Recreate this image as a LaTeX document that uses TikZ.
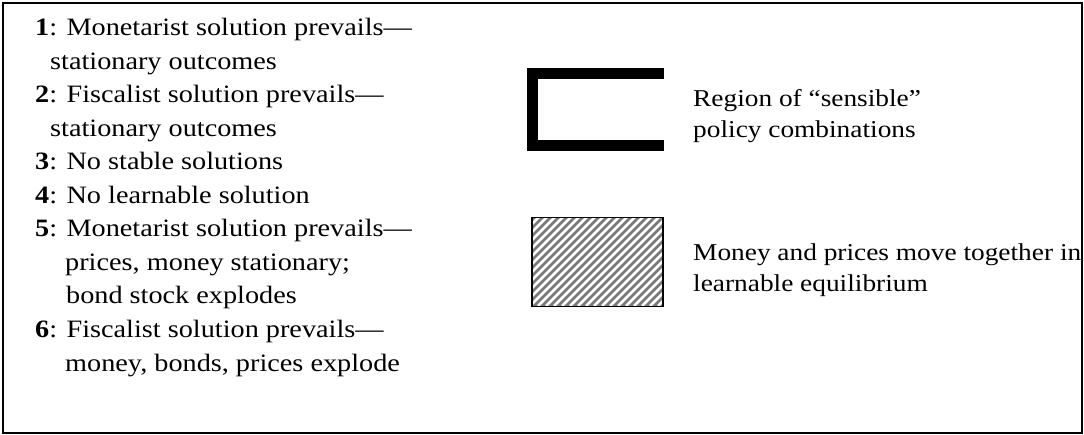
\documentclass[tikz,border=0pt]{standalone}
\usepackage{fontspec}
\setmainfont{Liberation Serif}[FakeStretch=1.13]
\usetikzlibrary{positioning}

\begin{document}
\begin{tikzpicture}[x=1pt,y=-1pt,
                    every node/.style={inner sep=0pt,anchor=base west,align=left},
                    listtxt/.style={font=\fontsize{25}{33.5}\selectfont},
                    legendtxt/.style={font=\fontsize{24.2}{31}\selectfont},
                    frame/.style={line width=2pt}]

\useasboundingbox (0,0) rectangle (1084,435);
\draw[frame] (3,3) rectangle (1082,433);

% numbered list on the left (nodes sit on the baseline of their last line)
\node[listtxt] (it1) at (35,69.5)  {\textbf{1}: Monetarist solution prevails---\\\hspace{15pt}stationary outcomes};
\node[listtxt] (it2) at (35,136.5) {\textbf{2}: Fiscalist solution prevails---\\\hspace{15pt}stationary outcomes};
\node[listtxt] (it3) at (35,170)   {\textbf{3}: No stable solutions};
\node[listtxt] (it4) at (35,203.5) {\textbf{4}: No learnable solution};
\node[listtxt] (it5) at (35,304)   {\textbf{5}: Monetarist solution prevails---\\\hspace{30pt}prices, money stationary;\\\hspace{31pt}bond stock explodes};
\node[listtxt] (it6) at (35,371)   {\textbf{6}: Fiscalist solution prevails---\\\hspace{30pt}money, bonds, prices explode};

% legend: sensible region
\coordinate (brtop) at (664,73.5);
\coordinate (brbot) at (664,145.5);
\draw[line width=11pt] (brtop) -- (532,73.5) -- (532,145.5) -- (brbot);
\node[legendtxt] (sensible) at (693,138) {Region of ``sensible''\\policy combinations};

% legend: hatched box
\begin{scope}
  \clip (531,217) rectangle (662,306);
  \fill[gray!95!black] (531,217) rectangle (662,306);
  \foreach \s in {0,8,...,240}
    \draw[white,line width=2.6pt] (531-89+\s,306) -- ++(89,-89);
\end{scope}
\node[draw,line width=1.5pt,minimum width=131pt,minimum height=89pt,anchor=north west] (hatch) at (531,217) {};
\node[legendtxt] (together) at (693,292) {Money and prices move together in\\learnable equilibrium};

\end{tikzpicture}
\end{document}
